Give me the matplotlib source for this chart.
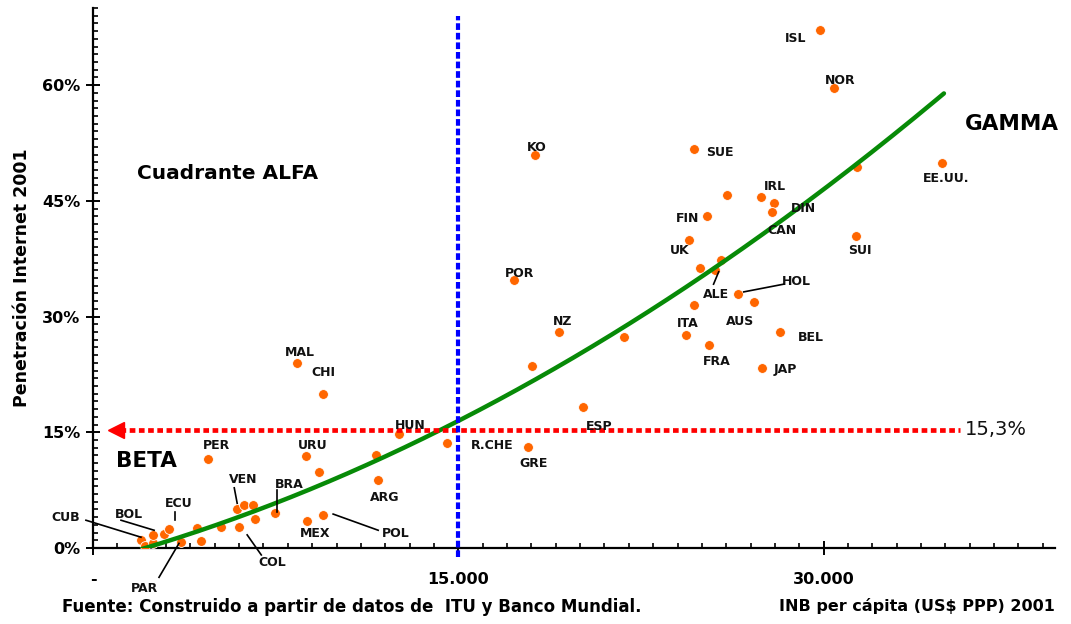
import matplotlib
matplotlib.use('Agg')
import numpy as np
import matplotlib.pyplot as plt
from matplotlib.ticker import MultipleLocator, FixedLocator

plt.rcParams['font.family'] = ['DejaVu Sans']
plt.rcParams['font.weight'] = 'bold'

# ---------------- data ----------------
countries = ['ISL', 'NOR', 'EE.UU.', 'SUE', 'KO', '', '', 'IRL', 'DIN', 'CAN',
             'FIN', 'UK', 'SUI', '', '', 'ALE', 'HOL', 'AUS', '', 'ITA',
             'FRA', 'BEL', 'JAP', 'POR', 'NZ', '', '', 'ESP', 'GRE', 'R.CHE',
             'HUN', '', 'ARG', 'URU', '', 'MAL', 'CHI', 'PER', 'VEN', '',
             '', '', 'COL', 'BRA', 'MEX', 'POL', '', 'CUB', '', '',
             'BOL', '', 'ECU', 'PAR', '', '']
gni = [29840, 30410, 34850, 24660, 18130, 31360, 26020, 27410, 27950, 27870,
       25200, 24460, 31320, 25770, 24910, 25520, 26470, 27130, 24660, 24330,
       25280, 28200, 27460, 17300, 19150, 21820, 18040, 20140, 17880, 14550,
       12580, 11630, 11710, 8750, 9290, 8380, 9450, 4730, 5920, 6210,
       6580, 6660, 6000, 7480, 8800, 9450, 5260, 1970, 2140, 2470,
       2470, 2920, 3120, 3620, 4270, 4440]
internet = [67.2, 59.6, 49.9, 51.7, 51.0, 49.4, 45.7, 45.5, 44.7, 43.5,
            43.0, 39.9, 40.4, 37.3, 36.3, 36.1, 32.9, 31.9, 31.5, 27.6,
            26.3, 28.0, 23.3, 34.8, 28.0, 27.3, 23.6, 18.3, 13.1, 13.6,
            14.8, 12.0, 8.8, 11.9, 9.8, 24.0, 19.9, 11.5, 5.1, 5.6,
            5.6, 3.8, 2.7, 4.5, 3.5, 4.3, 2.7, 1.0, 0.3, 0.6,
            1.7, 1.8, 2.5, 0.8, 2.6, 0.9]

# trend line positions (drawn as a smooth curve through them)
trend_gni = [1970, 4440, 7730, 9780, 11840, 15000, 19440, 22930, 27040, 33200, 34940]
trend_pen = [0.65, 2.72, 5.30, 7.89, 11.0, 16.4, 24.7, 31.3, 40.6, 54.3, 58.3]

gni_threshold = 15000
pen_threshold = 15.3
threshold_label = '15,3%'

x_ticks = [0, 15000, 30000]
x_tick_labels = ['-', '15.000', '30.000']
y_ticks = [0, 15, 30, 45, 60]
y_tick_labels = ['0%', '15%', '30%', '45%', '60%']

# ---------------- label layout ----------------
label_pos = {
    'ISL': (28850, 66.1), 'NOR': (30700, 60.6), 'EE.UU.': (35020, 47.9),
    'SUE': (25730, 51.3), 'KO': (18210, 51.9), 'IRL': (27990, 46.9),
    'DIN': (29180, 44.0), 'CAN': (28280, 41.2), 'FIN': (24410, 42.7),
    'UK': (24090, 38.5), 'SUI': (31480, 38.5), 'ALE': (25570, 32.8),
    'HOL': (28890, 34.6), 'AUS': (26550, 29.3), 'ITA': (24410, 29.1),
    'FRA': (25610, 24.2), 'BEL': (29470, 27.3), 'JAP': (28440, 23.2),
    'POR': (17510, 35.6), 'NZ': (19280, 29.3), 'ESP': (20800, 15.7),
    'R.CHE': (16400, 13.3), 'GRE': (18080, 10.9), 'HUN': (13030, 15.9),
    'MAL': (8510, 25.3), 'CHI': (9450, 22.7), 'PER': (5060, 13.3),
    'URU': (9040, 13.3), 'ARG': (11960, 6.5), 'VEN': (6170, 8.9),
    'BRA': (8060, 8.2), 'MEX': (9120, 1.9), 'POL': (12450, 1.9),
    'CUB': (-1110, 3.9), 'BOL': (1480, 4.3), 'ECU': (3530, 5.8),
    'PAR': (2100, -5.2), 'COL': (7360, -1.9),
}
leaders = {
    'ALE': ((25480, 34.2), (25690, 35.8)),
    'HOL': ((28360, 34.2), (26720, 33.2)),
    'VEN': ((5800, 7.8), (5920, 5.8)),
    'BRA': ((7560, 7.5), (7560, 4.7)),
    'POL': ((11710, 2.3), (9860, 4.4)),
    'CUB': ((-290, 3.6), (1970, 1.4)),
    'BOL': ((1150, 3.6), (2510, 2.3)),
    'ECU': ((3370, 4.7), (3370, 3.6)),
    'PAR': ((2710, -3.8), (3530, 0.6)),
    'COL': ((6330, 1.7), (6910, -0.9)),
}

W, H = 1071, 624
fig = plt.figure(figsize=(W / 100, H / 100), dpi=100)
ax = fig.add_axes([93 / W, 1 - 548 / H, (1055 - 93) / W, (548 - 8) / H])
ax.set_xlim(0, 39500)
ax.set_ylim(0, 70)

orange = '#FF6600'
ax.scatter(gni, internet, s=50, c=orange, edgecolors='white', linewidths=0.6, zorder=3)

# smooth trend curve through the read trend positions
coef = np.polyfit(trend_gni, trend_pen, 2)
tx = np.linspace(trend_gni[0], trend_gni[-1], 300)
ax.plot(tx, np.polyval(coef, tx), color='#078A07', lw=3.2, solid_capstyle='round', zorder=4)

# threshold lines
ax.plot([1100, 35600], [pen_threshold, pen_threshold], color='#FF0000', lw=3.4,
        linestyle=(0, (1.2, 0.75)), zorder=5, clip_on=False)
ax.plot([950], [pen_threshold], marker='<', ms=11, color='#FF0000', zorder=5, clip_on=False)
ax.text(35800, pen_threshold, threshold_label, fontsize=14, fontweight='normal',
        ha='left', va='center', color='#111111')
ax.plot([gni_threshold, gni_threshold], [-1.2, 69], color='#0000FF', lw=3.0,
        linestyle=(0, (1.6, 0.7)), zorder=6, clip_on=False)

# country labels
for name in countries:
    if name and name in label_pos:
        x, y = label_pos[name]
        ax.text(x, y, name, fontsize=9, fontweight='bold', ha='center', va='center',
                color='#111111', zorder=7, clip_on=False)
for name, (p0, p1) in leaders.items():
    ax.plot([p0[0], p1[0]], [p0[1], p1[1]], color='black', lw=1.2, zorder=7, clip_on=False)

# quadrant labels
ax.text(5530, 48.6, 'Cuadrante ALFA', fontsize=14.5, fontweight='bold', ha='center', va='center')
ax.text(37720, 55.0, 'GAMMA', fontsize=15.5, fontweight='bold', ha='center', va='center')
ax.text(2180, 11.3, 'BETA', fontsize=15.5, fontweight='bold', ha='center', va='center')

# axes styling
for s in ['top', 'right']:
    ax.spines[s].set_visible(False)
for s in ['left', 'bottom']:
    ax.spines[s].set_linewidth(1.6)
ax.xaxis.set_major_locator(FixedLocator(x_ticks))
ax.set_xticklabels(x_tick_labels)
ax.yaxis.set_major_locator(FixedLocator(y_ticks))
ax.set_yticklabels(y_tick_labels)
ax.xaxis.set_minor_locator(MultipleLocator(1000))
ax.yaxis.set_minor_locator(MultipleLocator(1))
ax.tick_params(which='major', direction='inout', length=10, width=1.4, labelsize=11.5)
ax.tick_params(which='minor', direction='in', length=3.5, width=1.2)
ax.tick_params(axis='x', which='major', pad=12)
ax.tick_params(axis='y', which='major', pad=4)
for lbl in ax.get_xticklabels() + ax.get_yticklabels():
    lbl.set_fontweight('bold')

ax.set_ylabel('Penetración Internet 2001', fontsize=12.5, fontweight='bold', labelpad=8)
fig.text(1055 / W, 1 - 606 / H, 'INB per cápita (US$ PPP) 2001', fontsize=11.5,
         fontweight='bold', ha='right', va='center')
fig.text(62 / W, 1 - 607 / H, 'Fuente: Construido a partir de datos de  ITU y Banco Mundial.',
         fontsize=12, fontweight='bold', ha='left', va='center')

fig.savefig('out.png', dpi=100)
